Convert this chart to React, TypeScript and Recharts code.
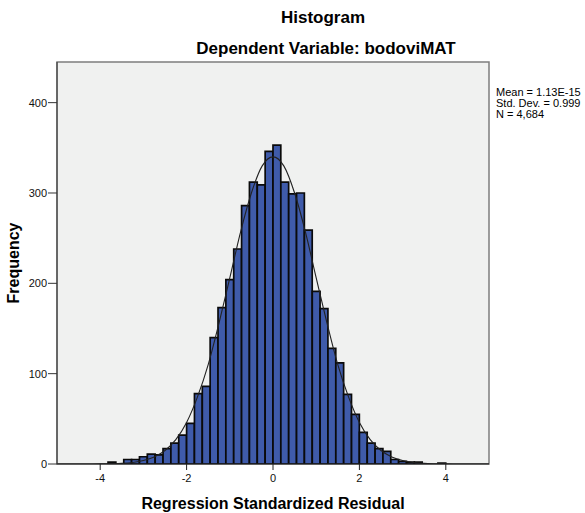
import React from "react";
import {
  ComposedChart,
  Bar,
  Line,
  XAxis,
  YAxis,
  ReferenceArea,
  Label,
} from "recharts";

// Histogram bins (centres of bins of width 2/11) and counts
const binCenters = [
  -3.7273, -3.5455, -3.3636, -3.1818, -3.0, -2.8182, -2.6364, -2.4545, -2.2727,
  -2.0909, -1.9091, -1.7273, -1.5455, -1.3636, -1.1818, -1.0, -0.8182, -0.6364,
  -0.4545, -0.2727, -0.0909, 0.0909, 0.2727, 0.4545, 0.6364, 0.8182, 1.0,
  1.1818, 1.3636, 1.5455, 1.7273, 1.9091, 2.0909, 2.2727, 2.4545, 2.6364,
  2.8182, 3.0, 3.1818, 3.3636, 3.5455, 3.7273, 3.9091,
];
const binCounts = [
  2, 0, 5, 5, 8, 11, 10, 17, 23, 32, 45, 78, 86, 140, 173, 204, 238, 286, 312,
  309, 346, 353, 312, 299, 300, 259, 191, 172, 128, 112, 77, 55, 35, 23, 17,
  14, 5, 3, 2, 2, 0, 0, 1,
];

// Normal curve
const curveX = [
  -5, -4.75, -4.5, -4.25, -4, -3.75, -3.5, -3.25, -3, -2.75, -2.5, -2.25, -2,
  -1.75, -1.5, -1.25, -1, -0.75, -0.5, -0.25, 0, 0.25, 0.5, 0.75, 1, 1.25, 1.5,
  1.75, 2, 2.25, 2.5, 2.75, 3, 3.25, 3.5, 3.75, 4, 4.25, 4.5, 4.75, 5,
];
const curveY = [
  0, 0, 0, 0.05, 0.1, 0.3, 0.7, 1.7, 3.8, 7.8, 15, 27, 46, 74, 110, 156, 206,
  257, 300, 330, 340, 330, 300, 257, 206, 156, 110, 74, 46, 27, 15, 7.8, 3.8,
  1.7, 0.7, 0.3, 0.1, 0.05, 0, 0, 0,
];

const xTicks = [-4, -2, 0, 2, 4];
const yTicks = [0, 100, 200, 300, 400];
const xDomain: [number, number] = [-5, 5];
const yDomain: [number, number] = [0, 445];

const legendLines = ["Mean = 1.13E-15", "Std. Dev. = 0.999", "N = 4,684"];

const histData = binCenters.map((x, i) => ({ x, count: binCounts[i] }));
const curveData = curveX.map((x, i) => ({ x, y: curveY[i] }));

const W = 585;
const H = 513;
const MARGIN = { top: 62, right: 96, left: 7, bottom: 0 };
const Y_AXIS_W = 50;
const X_AXIS_H = 49;
const PLOT_W = W - MARGIN.left - MARGIN.right - Y_AXIS_W;
const binWidth = binCenters[1] - binCenters[0];
const barPx = (PLOT_W * binWidth) / (xDomain[1] - xDomain[0]) - 0.06;

const FONT = "'Liberation Sans', Arial, sans-serif";
const tickStyle = { fontSize: 11, fill: "#111", fontFamily: FONT };

export default function App() {
  return (
    <div
      style={{
        position: "absolute",
        left: 0,
        top: 0,
        width: W,
        height: H,
        background: "#fff",
        fontFamily: FONT,
      }}
    >
      <ComposedChart width={W} height={H} data={histData} margin={MARGIN}>
        <ReferenceArea
          x1={xDomain[0]}
          x2={xDomain[1]}
          y1={yDomain[0]}
          y2={yDomain[1]}
          fill="#f0f1f0"
          fillOpacity={1}
          stroke="#7d7d7d"
          strokeWidth={1.5}
          ifOverflow="visible"
        />
        <XAxis
          dataKey="x"
          type="number"
          domain={xDomain}
          ticks={xTicks}
          allowDataOverflow
          height={X_AXIS_H}
          tick={tickStyle}
          tickSize={6}
          tickMargin={4}
          stroke="#222"
          interval={0}
        >
          <Label
            value="Regression Standardized Residual"
            position="insideBottom"
            offset={4}
            fill="#000"
            fontSize={16}
            fontWeight="bold"
            fontFamily={FONT}
          />
        </XAxis>
        <XAxis
          xAxisId="curve"
          dataKey="x"
          type="number"
          domain={xDomain}
          allowDataOverflow
          hide
        />
        <YAxis
          type="number"
          domain={yDomain}
          ticks={yTicks}
          allowDataOverflow
          width={Y_AXIS_W}
          tick={tickStyle}
          tickSize={9}
          tickMargin={1}
          stroke="#333"
          interval={0}
        >
          <Label
            value="Frequency"
            angle={-90}
            position="insideLeft"
            offset={6}
            fill="#000"
            fontSize={16}
            fontWeight="bold"
            fontFamily={FONT}
            style={{ textAnchor: "middle" }}
          />
        </YAxis>
        <Bar
          dataKey="count"
          barSize={barPx}
          fill="#3f5baa"
          stroke="#0a0a0a"
          strokeWidth={1.7}
          isAnimationActive={false}
        />
        <Line
          xAxisId="curve"
          data={curveData}
          dataKey="y"
          type="monotone"
          stroke="#222"
          strokeWidth={1.1}
          dot={false}
          activeDot={false}
          isAnimationActive={false}
        />
      </ComposedChart>
      <svg
        width={W}
        height={H}
        style={{ position: "absolute", left: 0, top: 0, pointerEvents: "none" }}
      >
        <text
          x={323}
          y={22.5}
          textAnchor="middle"
          fontFamily={FONT}
          fontSize={17}
          fontWeight="bold"
          fill="#000"
        >
          Histogram
        </text>
        <text
          x={326}
          y={53.5}
          textAnchor="middle"
          fontFamily={FONT}
          fontSize={17}
          fontWeight="bold"
          fill="#000"
        >
          Dependent Variable: bodoviMAT
        </text>
        {legendLines.map((t, i) => (
          <text
            key={t}
            x={496}
            y={96 + i * 11}
            fontFamily={FONT}
            fontSize={11}
            fill="#000"
          >
            {t}
          </text>
        ))}
      </svg>
    </div>
  );
}
